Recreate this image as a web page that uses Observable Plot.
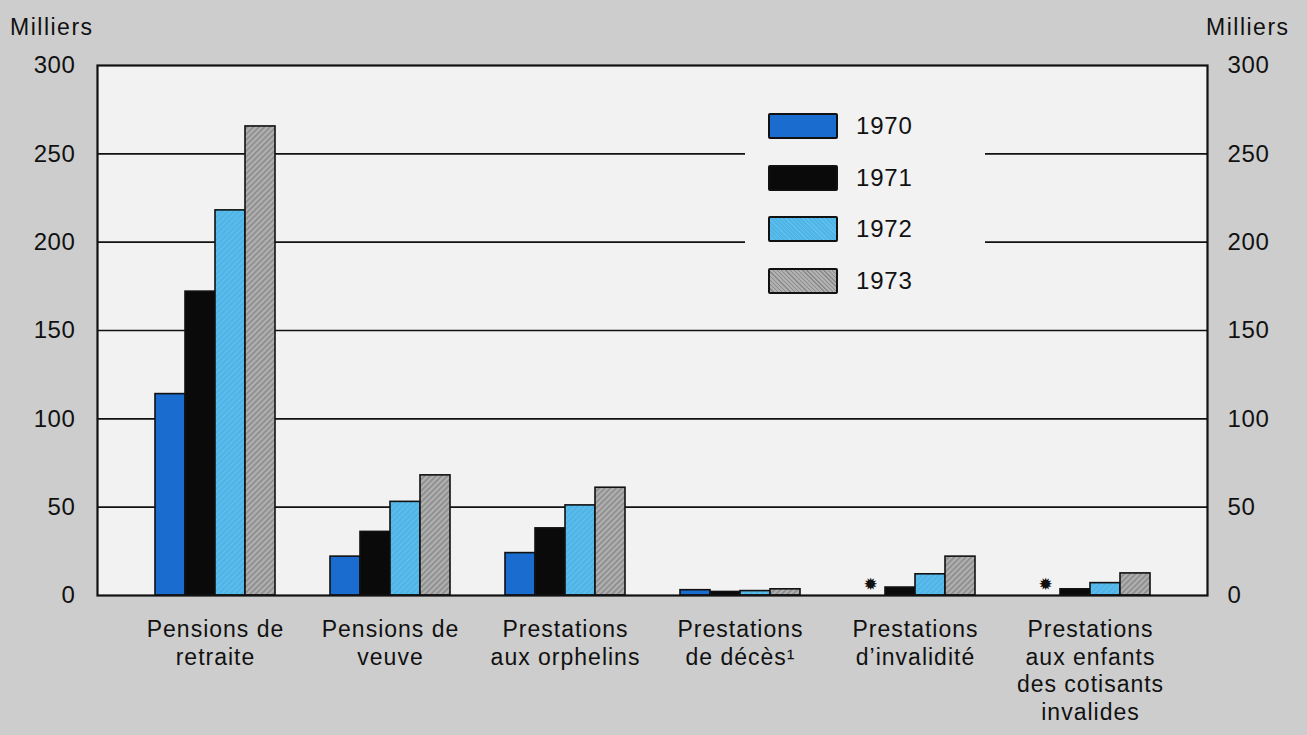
<!DOCTYPE html>
<html><head><meta charset="utf-8">
<script src="https://cdn.jsdelivr.net/npm/d3@7"></script>
<script src="https://cdn.jsdelivr.net/npm/@observablehq/plot@0.6"></script>
<style>
body{margin:0;background:#cdcdcd;font-family:"Liberation Sans",Arial,sans-serif;color:#111}
#wrap{position:relative;width:1307px;height:735px;overflow:hidden}
.unit{position:absolute;top:14px;font-size:23px;letter-spacing:1.5px}
#legend{position:absolute;left:745px;top:100px;width:240px;height:210px;background:#f2f2f2}
.item{position:absolute;left:23px;height:28px;display:flex;align-items:center}
.sw{width:66px;height:22px;border:2.5px solid #111;border-radius:2px;box-sizing:content-box}
.lab{margin-left:18px;font-size:24px;letter-spacing:0.8px}
#chart g[aria-label="x-axis tick label"] text{letter-spacing:1px}
#chart g[aria-label="y-axis tick label"] text{letter-spacing:0.6px}
</style></head>
<body>
<svg width="0" height="0" style="position:absolute">
 <defs>
  <pattern id="hatchGray" patternUnits="userSpaceOnUse" width="4" height="4" patternTransform="rotate(45)">
   <rect width="4" height="4" fill="#b0b0b0"/><rect width="1.6" height="4" fill="#8a8a8a"/>
  </pattern>
  <pattern id="hatchBlue" patternUnits="userSpaceOnUse" width="4" height="4" patternTransform="rotate(45)">
   <rect width="4" height="4" fill="#4fb4e6"/><rect width="1.2" height="4" fill="#62c0ee"/>
  </pattern>
 </defs>
</svg>
<div id="wrap">
 <div class="unit" style="left:10px">Milliers</div>
 <div class="unit" style="left:1206px">Milliers</div>
 <div id="chart"></div>
 <div id="legend"></div>
</div>
<script>
const categories = [
  "Pensions de\nretraite",
  "Pensions de\nveuve",
  "Prestations\naux orphelins",
  "Prestations\nde décès¹",
  "Prestations\nd’invalidité",
  "Prestations\naux enfants\ndes cotisants\ninvalides"
];
const years = ["1970", "1971", "1972", "1973"];
const v1970 = [114, 22, 24, 3, null, null];
const v1971 = [172, 36, 38, 2, 4.5, 3.5];
const v1972 = [218, 53, 51, 2.5, 12, 7];
const v1973 = [265.5, 68, 61, 3.5, 22, 12.5];
const yTicks = [0, 50, 100, 150, 200, 250, 300];
const gridTicks = [50, 100, 150, 200, 250];
const missingMark = "✹";

const series = [v1970, v1971, v1972, v1973];
const fills = ["#1a6dcf", "#0a0a0a", "url(#hatchBlue)", "url(#hatchGray)"];
const legendCss = [
  "#1a6dcf", "#0a0a0a",
  "repeating-linear-gradient(45deg,#4fb4e6 0 2px,#62c0ee 2px 3px)",
  "repeating-linear-gradient(45deg,#b0b0b0 0 2px,#8a8a8a 2px 3px)"
];

const rows = years.map((yr, i) => categories.map((c, j) => ({cat: c, year: yr, value: series[i][j]})));
const missing = rows[0].filter(d => d.value == null).map(d => ({cat: d.cat, value: 0}));

const barW = 30;
const barMarks = rows.map((data, i) => Plot.barY(data.filter(d => d.value != null), {
  x: "cat", y: "value", fill: fills[i], stroke: "#111", strokeWidth: 1.6,
  insetLeft: barW * i, insetRight: barW * (3 - i)
}));

const chart = Plot.plot({
  width: 1307, height: 735,
  marginTop: 65, marginBottom: 140, marginLeft: 97, marginRight: 100,
  style: {background: "transparent", fontFamily: "Liberation Sans, Arial, sans-serif", color: "#111"},
  x: {domain: categories, paddingInner: 0.316, paddingOuter: 0.322, axis: null},
  y: {domain: [0, 300], axis: null},
  marks: [
    Plot.frame({fill: "#f2f2f2", stroke: null}),
    Plot.ruleY(gridTicks, {stroke: "#111", strokeWidth: 1.6}),
    ...barMarks,
    Plot.text(missing, {x: "cat", y: "value", text: () => missingMark, dx: -45, dy: -11, fontSize: 17, fill: "#111", fontFamily: "DejaVu Sans"}),
    Plot.frame({stroke: "#111", strokeWidth: 2.2}),
    Plot.axisY({anchor: "left", ticks: yTicks, tickSize: 0, tickPadding: 22, fontSize: 24, label: null}),
    Plot.axisY({anchor: "right", ticks: yTicks, tickSize: 0, tickPadding: 20, fontSize: 24, label: null}),
    Plot.axisX({anchor: "bottom", tickSize: 0, tickPadding: 22, fontSize: 23, lineHeight: 1.2, label: null})
  ]
});
document.getElementById("chart").appendChild(chart);

const legend = document.getElementById("legend");
years.forEach((yr, i) => {
  const it = document.createElement("div");
  it.className = "item";
  it.style.top = (12 + i * 51.5) + "px";
  it.innerHTML = `<div class="sw" style="background:${legendCss[i]}"></div><span class="lab">${yr}</span>`;
  legend.appendChild(it);
});
</script>
</body></html>
